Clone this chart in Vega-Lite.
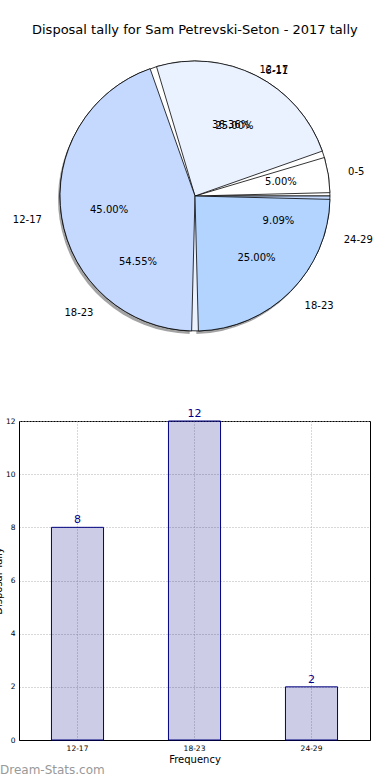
{
  "$schema": "https://vega.github.io/schema/vega-lite/v6.json",
  "padding": {"left": -8, "top": 24, "right": 0, "bottom": 0},
  "config": {"font": "DejaVu Sans", "view": {"stroke": null}},
  "title": {"text": "Disposal tally for Sam Petrevski-Seton - 2017 tally", "fontSize": 13, "fontWeight": "normal", "color": "#000000", "anchor": "middle", "offset": 5, "dx": 12},
  "bounds": "flush",
  "spacing": 71,
  "datasets": {
    "pie1": [
      {"key": "p1 0-5", "group": "0-5", "i": 1, "pct": 5, "label": "5.00%"},
      {"key": "p1 6-11", "group": "6-11", "i": 2, "pct": 25, "label": "25.00%"},
      {"key": "p1 12-17", "group": "12-17", "i": 3, "pct": 45, "label": "45.00%"},
      {"key": "p1 18-23", "group": "18-23", "i": 4, "pct": 25, "label": "25.00%"}
    ],
    "pie2": [
      {"key": "p2 12-17", "group": "12-17", "i": 1, "pct": 36.36, "label": "36.36%"},
      {"key": "p2 18-23", "group": "18-23", "i": 2, "pct": 54.55, "label": "54.55%"},
      {"key": "p2 24-29", "group": "24-29", "i": 3, "pct": 9.09, "label": "9.09%"}
    ],
    "bars": [
      {"range": "12-17", "count": 8},
      {"range": "18-23", "count": 12},
      {"range": "24-29", "count": 2}
    ]
  },
  "vconcat": [
    {
      "width": 352,
      "height": 308,
      "encoding": {
        "theta": {"field": "pct", "type": "quantitative", "stack": true, "scale": {"domain": [0, 100], "range": [1.5708, -4.7124]}},
        "order": {"field": "i", "type": "quantitative"}
      },
      "layer": [
        {"data": {"name": "pie1"}, "mark": {"type": "arc", "radius": 135, "padAngle": 0.05, "fill": "#666666", "opacity": 0.6, "xOffset": -2, "yOffset": 3}},
        {"data": {"name": "pie2"}, "mark": {"type": "arc", "radius": 135, "stroke": "#000000", "strokeWidth": 0.8},
          "encoding": {"color": {"field": "key", "type": "nominal", "legend": null,
            "scale": {"domain": ["p1 0-5", "p1 6-11", "p1 12-17", "p1 18-23", "p2 12-17", "p2 18-23", "p2 24-29"],
                      "range": ["#ffffff", "#ebf2ff", "#c5d9fe", "#b3d4ff", "#ffffff", "#ebf2ff", "#c5d9fe"]}}}},
        {"data": {"name": "pie1"}, "mark": {"type": "arc", "radius": 135, "padAngle": 0.05, "stroke": "#000000", "strokeWidth": 0.8},
          "encoding": {"color": {"field": "key", "type": "nominal", "legend": null}}},
        {"data": {"name": "pie2"}, "mark": {"type": "text", "radius": 87, "fontSize": 10, "color": "#000000"},
          "encoding": {"text": {"condition": {"test": "datum.key !== 'p2 12-17'", "field": "label"}, "value": ""}}},
        {"data": {"name": "pie2"}, "mark": {"type": "text", "radius": 87, "dy": 8, "fontSize": 10, "color": "#000000"},
          "encoding": {"text": {"condition": {"test": "datum.key === 'p2 12-17'", "field": "label"}, "value": ""}}},
        {"data": {"name": "pie1"}, "mark": {"type": "text", "radius": 87, "fontSize": 10, "color": "#000000"},
          "encoding": {"text": {"condition": {"test": "datum.key !== 'p1 6-11'", "field": "label"}, "value": ""}}},
        {"data": {"name": "pie1"}, "mark": {"type": "text", "radius": 87, "dy": 8, "fontSize": 10, "color": "#000000"},
          "encoding": {"text": {"condition": {"test": "datum.key === 'p1 6-11'", "field": "label"}, "value": ""}}},
        {"data": {"name": "pie2"}, "mark": {"type": "text", "radius": 155, "align": "left", "fontSize": 10, "color": "#000000"},
          "encoding": {"text": {"condition": {"test": "datum.key === 'p2 24-29'", "field": "group"}, "value": ""}}},
        {"data": {"name": "pie2"}, "mark": {"type": "text", "radius": 155, "align": "left", "dy": 15, "fontSize": 10, "color": "#000000"},
          "encoding": {"text": {"condition": {"test": "datum.key === 'p2 12-17'", "field": "group"}, "value": ""}}},
        {"data": {"name": "pie2"}, "mark": {"type": "text", "radius": 155, "align": "right", "fontSize": 10, "color": "#000000"},
          "encoding": {"text": {"condition": {"test": "datum.key === 'p2 18-23'", "field": "group"}, "value": ""}}},
        {"data": {"name": "pie1"}, "mark": {"type": "text", "radius": 155, "align": "left", "fontSize": 10, "color": "#000000"},
          "encoding": {"text": {"condition": {"test": "datum.key === 'p1 0-5' || datum.key === 'p1 18-23'", "field": "group"}, "value": ""}}},
        {"data": {"name": "pie1"}, "mark": {"type": "text", "radius": 155, "align": "left", "dy": 13, "fontSize": 10, "color": "#000000"},
          "encoding": {"text": {"condition": {"test": "datum.key === 'p1 6-11'", "field": "group"}, "value": ""}}},
        {"data": {"name": "pie1"}, "mark": {"type": "text", "radius": 155, "align": "right", "fontSize": 10, "color": "#000000"},
          "encoding": {"text": {"condition": {"test": "datum.key === 'p1 12-17'", "field": "group"}, "value": ""}}}
      ]
    },
    {
      "width": 351,
      "height": 319,
      "data": {"name": "bars"},
      "view": {"stroke": "#000000", "strokeWidth": 1},
      "title": {"text": "Dream-Stats.com", "orient": "bottom", "anchor": "start", "frame": "group", "dx": -19, "fontSize": 12, "fontWeight": "normal", "color": "#999999", "offset": 0},
      "encoding": {
        "x": {"field": "range", "type": "nominal", "sort": null,
          "scale": {"paddingInner": 0.555, "paddingOuter": 0.2775},
          "axis": {"title": "Frequency", "labelAngle": 0, "labelFontSize": 7.5, "labelColor": "#000000", "titleFontSize": 10, "titleFontWeight": "normal", "titleColor": "#000000",
            "grid": true, "gridDash": [1, 2], "gridColor": "#b0b0b0", "ticks": false, "domainColor": "#000000", "labelPadding": 4, "titlePadding": 3, "bandPosition": 0.5}},
        "y": {"field": "count", "type": "quantitative", "scale": {"domain": [0, 12]},
          "axis": {"title": "Disposal Tally", "values": [0, 2, 4, 6, 8, 10, 12], "labelFontSize": 7.5, "labelColor": "#000000", "titleFontSize": 10, "titleFontWeight": "normal", "titleColor": "#000000",
            "grid": true, "gridDash": [1, 2], "gridColor": "#b0b0b0", "ticks": false, "domainColor": "#000000", "labelPadding": 4, "titlePadding": 2}}
      },
      "layer": [
        {"mark": {"type": "bar", "fill": "#000080", "fillOpacity": 0.2, "stroke": "#000080", "strokeWidth": 1}},
        {"mark": {"type": "text", "dy": -7, "color": "#00008b", "fontSize": 11}, "encoding": {"text": {"field": "count"}}}
      ]
    }
  ]
}
